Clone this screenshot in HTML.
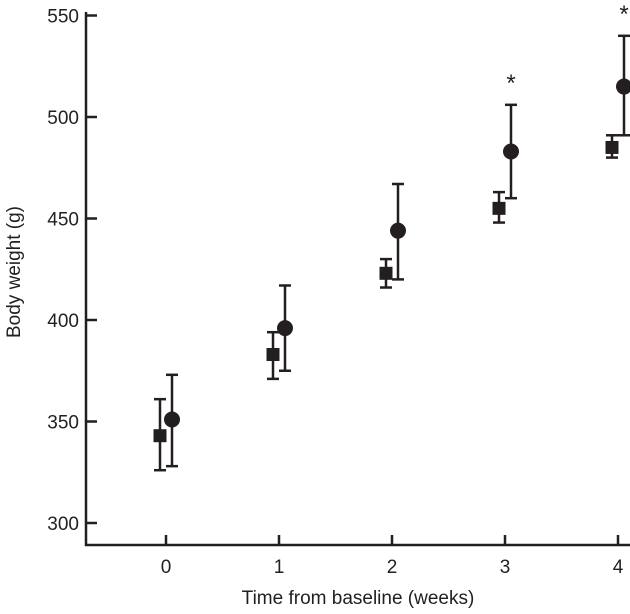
<!DOCTYPE html>
<html><head><meta charset="utf-8"><style>
html,body{margin:0;padding:0;background:#fff;}
text{font-family:"Liberation Sans",Arial,sans-serif;fill:#231f20;}
</style></head><body>
<svg id="chart" width="630" height="609" viewBox="0 0 630 609" xmlns="http://www.w3.org/2000/svg">
<g id="axes"></g>
<g id="marks"></g>
<text transform="translate(20,272) rotate(-90)" text-anchor="middle" font-size="19">Body weight (g)</text>
<text x="358" y="604" text-anchor="middle" font-size="19">Time from baseline (weeks)</text>
</svg>
<script>
const weeks=[0,1,2,3,4];
const yTicks=[300,350,400,450,500,550];
const sqMean=[343,383,423,455,485];
const sqLo=[326,371,416,448,480];
const sqHi=[361,394,430,463,491];
const ciMean=[351,396,444,483,515];
const ciLo=[328,375,420,460,491];
const ciHi=[373,417,467,506,540];
const sig=[false,false,false,true,true];
const NS="http://www.w3.org/2000/svg";
const xS=w=>166+w*113;
const yS=v=>523-(v-300)*2.03;
const col="#231f20";
function mk(tag,attrs,parent){const e=document.createElementNS(NS,tag);for(const k in attrs)e.setAttribute(k,attrs[k]);parent.appendChild(e);return e;}
const ax=document.getElementById('axes'),mg=document.getElementById('marks');
let e=mk('line',{x1:86,y1:12,x2:86,y2:546,stroke:col,'stroke-width':2.5},ax);


e=mk('line',{x1:85,y1:545,x2:630,y2:545,stroke:col,'stroke-width':2.5},ax);


yTicks.forEach(v=>{
 const t=mk('line',{x1:86,y1:yS(v),x2:97,y2:yS(v),stroke:col,'stroke-width':2.5},ax);
 
 
 const l=mk('text',{x:79,y:yS(v)+7,'text-anchor':'end','font-size':19},ax);l.textContent=v;
 
 
});
weeks.forEach(w=>{
 const t=mk('line',{x1:xS(w),y1:535,x2:xS(w),y2:545,stroke:col,'stroke-width':2.5},ax);
 
 
 const l=mk('text',{x:xS(w),y:573,'text-anchor':'middle','font-size':19},ax);l.textContent=w;
 
 
});
function err(x,lo,hi,name){
 const g=mk('g',{stroke:col,'stroke-width':2.5},mg);
 
 
 mk('line',{x1:x,y1:yS(lo),x2:x,y2:yS(hi)},g);
 mk('line',{x1:x-6,y1:yS(lo),x2:x+6,y2:yS(lo)},g);
 mk('line',{x1:x-6,y1:yS(hi),x2:x+6,y2:yS(hi)},g);
}
weeks.forEach((w,i)=>{
 const xs=xS(w)-6, xc=xS(w)+6;
 err(xs,sqLo[i],sqHi[i],'control-error-bar');
 const s=mk('rect',{x:xs-6.5,y:yS(sqMean[i])-6.5,width:13,height:13,fill:col},mg);
 
 
 err(xc,ciLo[i],ciHi[i],'treatment-error-bar');
 const c=mk('circle',{cx:xc,cy:yS(ciMean[i]),r:8,fill:col},mg);
 
 
 if(sig[i]){
  const a=mk('text',{x:xc,y:yS(ciHi[i])-14,'text-anchor':'middle','font-size':24},mg);a.textContent='*';
  
  
 }
});
</script>
</body></html>
